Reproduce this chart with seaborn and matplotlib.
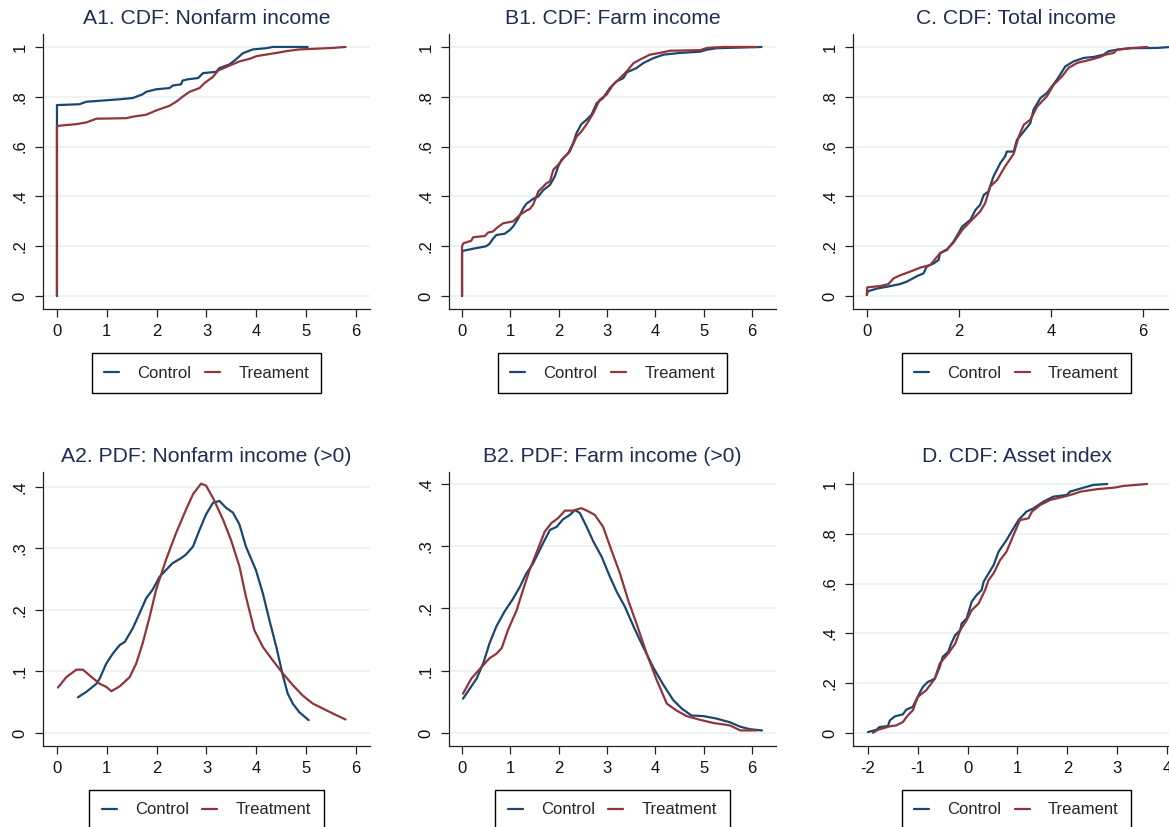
import numpy as np
import pandas as pd
import matplotlib
matplotlib.use("Agg")
import matplotlib.pyplot as plt
from matplotlib.lines import Line2D
import seaborn as sns

# ---------------- data ----------------
# A1. CDF: Nonfarm income
a1_ctrl_x = [0, 0, 0.05, 0.45, 0.59, 1.26, 1.52, 1.72, 1.79, 1.99, 2.26, 2.32, 2.49, 2.52, 2.62, 2.83, 2.93, 3.19, 3.26, 3.46, 3.59, 3.73, 3.93, 4.2, 4.33, 5.03]
a1_ctrl_y = [0, 0.767, 0.767, 0.77, 0.78, 0.79, 0.795, 0.81, 0.82, 0.83, 0.835, 0.845, 0.85, 0.865, 0.87, 0.875, 0.895, 0.9, 0.915, 0.93, 0.95, 0.975, 0.99, 0.995, 1.0, 1.0]
a1_trt_x = [0, 0, 0.05, 0.39, 0.59, 0.79, 1.39, 1.52, 1.79, 1.99, 2.26, 2.39, 2.52, 2.66, 2.86, 2.96, 3.13, 3.23, 3.46, 3.66, 3.86, 4.0, 4.4, 4.6, 4.86, 5.53, 5.79]
a1_trt_y = [0, 0.681, 0.684, 0.69, 0.697, 0.712, 0.714, 0.72, 0.728, 0.745, 0.764, 0.78, 0.8, 0.82, 0.835, 0.855, 0.88, 0.905, 0.925, 0.942, 0.952, 0.963, 0.976, 0.983, 0.99, 0.996, 1.0]

# B1. CDF: Farm income
b1_ctrl_x = [0, 0, 0.03, 0.23, 0.5, 0.57, 0.64, 0.71, 0.88, 0.99, 1.06, 1.16, 1.26, 1.33, 1.47, 1.58, 1.68, 1.82, 1.92, 1.99, 2.06, 2.2, 2.3, 2.37, 2.47, 2.58, 2.68, 2.79, 2.92, 3.06, 3.2, 3.34, 3.41, 3.61, 3.75, 3.96, 4.17, 4.51, 4.93, 5.07, 5.27, 6.2]
b1_ctrl_y = [0, 0.178, 0.182, 0.19, 0.2, 0.21, 0.23, 0.245, 0.25, 0.265, 0.28, 0.31, 0.35, 0.37, 0.39, 0.4, 0.425, 0.446, 0.48, 0.52, 0.547, 0.574, 0.614, 0.654, 0.69, 0.708, 0.728, 0.775, 0.795, 0.835, 0.862, 0.875, 0.898, 0.915, 0.935, 0.955, 0.969, 0.976, 0.981, 0.989, 0.995, 1.0]
b1_trt_x = [0, 0, 0.03, 0.19, 0.23, 0.47, 0.54, 0.64, 0.71, 0.85, 1.06, 1.2, 1.33, 1.4, 1.47, 1.58, 1.75, 1.82, 1.89, 1.99, 2.13, 2.23, 2.37, 2.47, 2.58, 2.72, 2.85, 2.99, 3.13, 3.27, 3.41, 3.55, 3.68, 3.89, 4.17, 4.31, 4.93, 5.07, 5.41, 6.1]
b1_trt_y = [0, 0.2, 0.212, 0.222, 0.236, 0.241, 0.255, 0.259, 0.272, 0.292, 0.3, 0.326, 0.343, 0.349, 0.366, 0.42, 0.453, 0.46, 0.507, 0.527, 0.56, 0.58, 0.64, 0.66, 0.69, 0.735, 0.788, 0.808, 0.849, 0.875, 0.902, 0.935, 0.949, 0.969, 0.979, 0.985, 0.987, 0.996, 1.0, 1.0]

# C. CDF: Total income
c_ctrl_x = [0, 0.02, 0.04, 0.22, 0.51, 0.72, 0.87, 1.09, 1.23, 1.3, 1.45, 1.56, 1.59, 1.74, 1.88, 1.99, 2.07, 2.25, 2.36, 2.46, 2.54, 2.64, 2.75, 2.9, 3.0, 3.04, 3.19, 3.26, 3.41, 3.55, 3.62, 3.77, 3.91, 4.13, 4.31, 4.49, 4.71, 4.93, 5.14, 5.25, 5.43, 5.72, 6.3, 6.6]
c_ctrl_y = [0.004, 0.017, 0.02, 0.03, 0.04, 0.048, 0.058, 0.08, 0.091, 0.118, 0.131, 0.145, 0.172, 0.185, 0.218, 0.252, 0.279, 0.306, 0.346, 0.366, 0.406, 0.42, 0.48, 0.534, 0.56, 0.58, 0.58, 0.627, 0.661, 0.694, 0.748, 0.795, 0.815, 0.869, 0.922, 0.942, 0.956, 0.96, 0.969, 0.983, 0.989, 0.995, 0.996, 1.0]
c_trt_x = [0, 0.01, 0.29, 0.47, 0.58, 0.72, 0.94, 1.16, 1.38, 1.59, 1.74, 1.88, 2.07, 2.25, 2.46, 2.57, 2.68, 2.83, 3.0, 3.19, 3.3, 3.41, 3.55, 3.7, 3.91, 4.06, 4.24, 4.38, 4.57, 4.86, 5.07, 5.18, 5.36, 5.43, 5.72, 6.09]
c_trt_y = [0.004, 0.035, 0.04, 0.048, 0.071, 0.083, 0.098, 0.114, 0.125, 0.172, 0.188, 0.214, 0.265, 0.3, 0.339, 0.373, 0.44, 0.466, 0.52, 0.571, 0.641, 0.688, 0.708, 0.761, 0.802, 0.849, 0.882, 0.916, 0.936, 0.949, 0.96, 0.969, 0.976, 0.989, 0.995, 1.0]

# A2. PDF: Nonfarm income (>0)
a2_ctrl_x = [0.42, 0.59, 0.79, 0.86, 0.99, 1.12, 1.26, 1.36, 1.52, 1.66, 1.79, 1.92, 2.06, 2.19, 2.32, 2.49, 2.59, 2.73, 2.86, 2.99, 3.13, 3.26, 3.39, 3.53, 3.66, 3.79, 3.99, 4.13, 4.26, 4.4, 4.53, 4.63, 4.73, 4.86, 5.05]
a2_ctrl_y = [0.058, 0.067, 0.08, 0.089, 0.113, 0.129, 0.143, 0.148, 0.17, 0.195, 0.219, 0.233, 0.254, 0.265, 0.276, 0.284, 0.29, 0.303, 0.33, 0.355, 0.374, 0.377, 0.366, 0.358, 0.339, 0.303, 0.265, 0.227, 0.184, 0.14, 0.094, 0.064, 0.048, 0.034, 0.021]
a2_trt_x = [0.02, 0.19, 0.39, 0.52, 0.65, 0.86, 0.99, 1.09, 1.26, 1.46, 1.59, 1.72, 1.86, 1.99, 2.19, 2.39, 2.59, 2.73, 2.89, 2.99, 3.13, 3.33, 3.49, 3.66, 3.79, 3.96, 4.13, 4.33, 4.53, 4.73, 4.93, 5.13, 5.33, 5.53, 5.79]
a2_trt_y = [0.074, 0.091, 0.103, 0.103, 0.094, 0.08, 0.075, 0.068, 0.076, 0.091, 0.113, 0.146, 0.189, 0.233, 0.282, 0.325, 0.363, 0.388, 0.405, 0.402, 0.382, 0.347, 0.314, 0.271, 0.222, 0.167, 0.14, 0.118, 0.097, 0.078, 0.061, 0.048, 0.04, 0.032, 0.022]

# B2. PDF: Farm income (>0)
b2_ctrl_x = [0.02, 0.16, 0.3, 0.44, 0.57, 0.71, 0.88, 1.06, 1.2, 1.33, 1.47, 1.68, 1.82, 1.96, 2.09, 2.23, 2.34, 2.44, 2.58, 2.72, 2.89, 3.06, 3.2, 3.37, 3.55, 3.75, 3.96, 4.17, 4.37, 4.55, 4.75, 5.0, 5.27, 5.55, 5.76, 5.96, 6.21]
b2_ctrl_y = [0.055, 0.071, 0.087, 0.112, 0.144, 0.171, 0.195, 0.216, 0.235, 0.256, 0.272, 0.305, 0.326, 0.331, 0.343, 0.35, 0.358, 0.353, 0.331, 0.307, 0.283, 0.251, 0.227, 0.203, 0.171, 0.138, 0.105, 0.077, 0.053, 0.039, 0.028, 0.027, 0.023, 0.017, 0.01, 0.006, 0.004]
b2_trt_x = [0.02, 0.19, 0.37, 0.57, 0.71, 0.82, 0.95, 1.13, 1.26, 1.4, 1.58, 1.71, 1.85, 1.99, 2.13, 2.3, 2.47, 2.61, 2.75, 2.92, 3.09, 3.27, 3.44, 3.61, 3.82, 4.03, 4.24, 4.44, 4.65, 4.93, 5.2, 5.55, 5.76, 6.1]
b2_trt_y = [0.063, 0.087, 0.103, 0.12, 0.127, 0.136, 0.165, 0.197, 0.229, 0.262, 0.297, 0.323, 0.337, 0.345, 0.357, 0.357, 0.361, 0.356, 0.35, 0.331, 0.294, 0.256, 0.213, 0.176, 0.128, 0.085, 0.047, 0.036, 0.027, 0.021, 0.016, 0.012, 0.004, 0.004]

# D. CDF: Asset index
d_ctrl_x = [-2.0, -1.83, -1.77, -1.6, -1.56, -1.46, -1.3, -1.23, -1.1, -1.03, -0.9, -0.8, -0.66, -0.56, -0.5, -0.39, -0.33, -0.25, -0.15, -0.12, -0.02, 0.08, 0.18, 0.28, 0.32, 0.42, 0.52, 0.62, 0.78, 0.92, 1.02, 1.18, 1.32, 1.52, 1.72, 1.99, 2.05, 2.29, 2.52, 2.8]
d_ctrl_y = [0.004, 0.013, 0.024, 0.028, 0.051, 0.067, 0.075, 0.094, 0.105, 0.134, 0.185, 0.205, 0.218, 0.265, 0.306, 0.326, 0.359, 0.393, 0.413, 0.44, 0.46, 0.527, 0.554, 0.574, 0.607, 0.641, 0.674, 0.728, 0.775, 0.822, 0.855, 0.889, 0.902, 0.929, 0.949, 0.956, 0.969, 0.983, 0.996, 1.0]
d_trt_x = [-1.9, -1.8, -1.56, -1.43, -1.3, -1.2, -1.1, -1.0, -0.83, -0.66, -0.56, -0.39, -0.25, -0.15, -0.02, 0.08, 0.22, 0.35, 0.42, 0.52, 0.65, 0.78, 0.92, 1.05, 1.22, 1.29, 1.46, 1.66, 1.93, 2.13, 2.26, 2.59, 2.93, 3.13, 3.6]
d_trt_y = [0.001, 0.013, 0.027, 0.031, 0.044, 0.071, 0.091, 0.145, 0.172, 0.218, 0.279, 0.319, 0.359, 0.413, 0.453, 0.493, 0.52, 0.574, 0.614, 0.641, 0.694, 0.728, 0.795, 0.855, 0.862, 0.889, 0.916, 0.936, 0.949, 0.96, 0.969, 0.979, 0.985, 0.992, 1.0]

titles = ["A1. CDF: Nonfarm income", "B1. CDF: Farm income", "C. CDF: Total income",
          "A2. PDF: Nonfarm income (>0)", "B2. PDF: Farm income (>0)", "D. CDF: Asset index"]
cdf_ticks = [0, 0.2, 0.4, 0.6, 0.8, 1]
cdf_tick_labels = ["0", ".2", ".4", ".6", ".8", "1"]
pdf_ticks = [0, 0.1, 0.2, 0.3, 0.4]
pdf_tick_labels = ["0", ".1", ".2", ".3", ".4"]
x_ticks_06 = [0, 1, 2, 3, 4, 5, 6]
x_ticks_c = [0, 2, 4, 6]
x_ticks_d = [-2, -1, 0, 1, 2, 3, 4]
label_control = "Control"
label_treat_short = "Treament"
label_treat_full = "Treatment"

# ---------------- styling ----------------
sns.set_theme(style="white")
plt.rcParams['font.family'] = ['Liberation Sans', 'DejaVu Sans']

NAVY = "#1a476f"
MAROON = "#90353b"
TITLE_C = "#1e2d52"
GRID_C = "#eaf2f3"

W, H = 1169, 827
fig = plt.figure(figsize=(W / 100, H / 100), dpi=100)
fig.patch.set_facecolor("white")

panels = [
    (titles[0], (43, 34, 370, 309), (-0.28, 6.28), x_ticks_06, (-0.052, 1.052), cdf_ticks, cdf_tick_labels,
     (a1_ctrl_x, a1_ctrl_y, a1_trt_x, a1_trt_y), label_treat_short),
    (titles[1], (449, 34, 776, 309), (-0.27, 6.5), x_ticks_06, (-0.052, 1.052), cdf_ticks, cdf_tick_labels,
     (b1_ctrl_x, b1_ctrl_y, b1_trt_x, b1_trt_y), label_treat_short),
    (titles[2], (853, 34, 1180, 309), (-0.3, 6.8), x_ticks_c, (-0.052, 1.052), cdf_ticks, cdf_tick_labels,
     (c_ctrl_x, c_ctrl_y, c_trt_x, c_trt_y), label_treat_short),
    (titles[3], (43, 472, 370, 746), (-0.28, 6.28), x_ticks_06, (-0.021, 0.424), pdf_ticks, pdf_tick_labels,
     (a2_ctrl_x, a2_ctrl_y, a2_trt_x, a2_trt_y), label_treat_full),
    (titles[4], (449, 472, 776, 746), (-0.27, 6.5), x_ticks_06, (-0.021, 0.419), pdf_ticks, pdf_tick_labels,
     (b2_ctrl_x, b2_ctrl_y, b2_trt_x, b2_trt_y), label_treat_full),
    (titles[5], (853, 472, 1180, 746), (-2.3, 4.26), x_ticks_d, (-0.052, 1.048), cdf_ticks, cdf_tick_labels,
     (d_ctrl_x, d_ctrl_y, d_trt_x, d_trt_y), label_treat_short),
]

for title, (l, t, r, b), xlim, xticks, ylim, yticks, ylabels, (cx, cy, tx, ty), tlab in panels:
    ax = fig.add_axes([l / W, 1 - b / H, (r - l) / W, (b - t) / H])
    df = pd.DataFrame({
        "x": list(cx) + list(tx),
        "y": list(cy) + list(ty),
        "group": [label_control] * len(cx) + [tlab] * len(tx),
    })
    sns.lineplot(data=df, x="x", y="y", hue="group", hue_order=[label_control, tlab],
                 palette=[NAVY, MAROON], estimator=None, sort=False, linewidth=1.6,
                 legend=False, ax=ax)
    ax.set_xlim(*xlim)
    ax.set_ylim(*ylim)
    ax.set_xticks(xticks)
    ax.set_xticklabels([str(v) for v in xticks])
    ax.set_yticks(yticks)
    ax.set_yticklabels(ylabels, rotation=90, va="center")
    ax.set_xlabel("")
    ax.set_ylabel("")
    ax.yaxis.grid(True, color=GRID_C, linewidth=1.3)
    ax.xaxis.grid(False)
    ax.set_axisbelow(True)
    for s in ["top", "right"]:
        ax.spines[s].set_visible(False)
    for s in ["left", "bottom"]:
        ax.spines[s].set_color("#222222")
        ax.spines[s].set_linewidth(0.9)
    ax.tick_params(direction="out", length=6, width=0.9, color="#222222",
                   labelsize=12, labelcolor="#111111", pad=5, left=True, bottom=True)
    ax.set_title(title, fontsize=15.2, color=TITLE_C, pad=7)

    handles = [Line2D([], [], color=NAVY, lw=1.6), Line2D([], [], color=MAROON, lw=1.6)]
    cxp = ((l + r) / 2) / W
    leg = ax.legend(handles, [label_control, tlab], loc="upper center",
                    bbox_to_anchor=(cxp, 1 - (b + 44) / H), bbox_transform=fig.transFigure,
                    ncol=2, frameon=True, fancybox=False, edgecolor="black",
                    fontsize=12, handlelength=0.9, handletextpad=1.1, columnspacing=0.8,
                    borderpad=0.75, borderaxespad=0)
    leg.get_frame().set_linewidth(1.0)
    leg.get_frame().set_alpha(1)

fig.savefig("out.png", dpi=100, facecolor="white")
